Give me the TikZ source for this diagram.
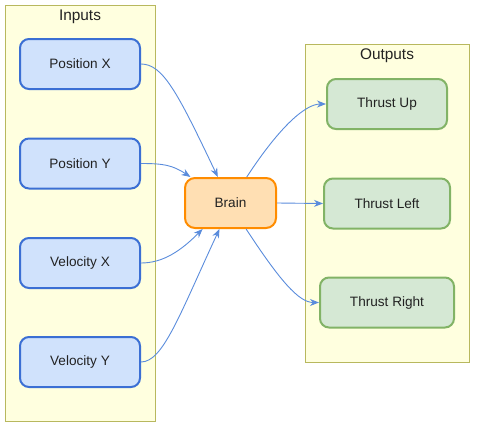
\documentclass[tikz,border=0pt]{standalone}
\usepackage{fontspec}
\setmainfont{Liberation Sans}
\usetikzlibrary{shapes.geometric, arrows.meta}
\definecolor{inBlue}{HTML}{D0E2FC}
\definecolor{inBlueLine}{HTML}{3B6FD4}
\definecolor{brainFill}{HTML}{FFDFB3}
\definecolor{brainLine}{HTML}{FF8C00}
\definecolor{outGreen}{HTML}{D5E8D4}
\definecolor{outGreenLine}{HTML}{82B366}
\definecolor{groupFill}{HTML}{FFFFDF}
\definecolor{groupLine}{HTML}{B8B85E}
\definecolor{edgeBlue}{HTML}{5A8CDC}
\definecolor{textGray}{HTML}{222222}
\tikzstyle{groupBox} = [rectangle, draw=groupLine, line width=1pt, fill=groupFill, inner sep=0pt]
\tikzstyle{inputBox} = [rectangle, rounded corners=9pt, minimum width=120pt, minimum height=50pt, text centered, draw=inBlueLine, line width=2pt, fill=inBlue, text=textGray, font=\fontsize{13.6}{16}\selectfont]
\tikzstyle{brainBox} = [rectangle, rounded corners=10pt, minimum width=91pt, minimum height=50pt, text centered, draw=brainLine, line width=2pt, fill=brainFill, text=textGray, font=\fontsize{13.6}{16}\selectfont]
\tikzstyle{outputBox} = [rectangle, rounded corners=9pt, minimum height=50pt, text centered, draw=outGreenLine, line width=2pt, fill=outGreen, text=textGray, font=\fontsize{13.6}{16}\selectfont]
\tikzstyle{groupLabel} = [text=textGray, font=\fontsize{15.4}{18}\selectfont]
\tikzstyle{arrow} = [line width=0.9pt, draw=edgeBlue, ->, >={Stealth[length=9pt, width=7pt]}]

\begin{document}
\begin{tikzpicture}[x=1pt, y=-1pt]
\useasboundingbox (0,0) rectangle (482,434);

\node (inputs) [groupBox, minimum width=150pt, minimum height=416pt] at (80,213) {};
\node (inputsLabel) [groupLabel] at (80,17) {Inputs};
\node (outputs) [groupBox, minimum width=164pt, minimum height=318pt] at (387,203) {};
\node (outputsLabel) [groupLabel] at (387,56) {Outputs};

\node (posX) [inputBox] at (80,64) {Position X};
\node (posY) [inputBox] at (80,163.5) {Position Y};
\node (velX) [inputBox] at (80,263) {Velocity X};
\node (velY) [inputBox] at (80,362) {Velocity Y};

\node (brain) [brainBox] at (230.5,203) {Brain};

\node (thrustUp) [outputBox, minimum width=120pt] at (387,104) {Thrust Up};
\node (thrustLeft) [outputBox, minimum width=126pt] at (387,203.5) {Thrust Left};
\node (thrustRight) [outputBox, minimum width=134pt] at (387,302.5) {Thrust Right};

\draw [arrow] (posX.east) .. controls +(22,0) and +(-40,-84) .. (brain.116.6);
\draw [arrow] (posY.east) .. controls +(22,0) and +(-18,-12) .. (brain.147);
\draw [arrow] (velX.east) .. controls +(22,0) and +(-22,22) .. (brain.223.3);
\draw [arrow] (velY.east) .. controls +(22,0) and +(-40,86) .. (brain.247.2);

\draw [arrow] (brain.58.2) .. controls +(34,-52) and +(-20,0) .. (thrustUp.west);
\draw [arrow] (brain.east) -- (thrustLeft.west);
\draw [arrow] (brain.301.8) .. controls +(34,52) and +(-20,0) .. (thrustRight.west);
\end{tikzpicture}
\end{document}
